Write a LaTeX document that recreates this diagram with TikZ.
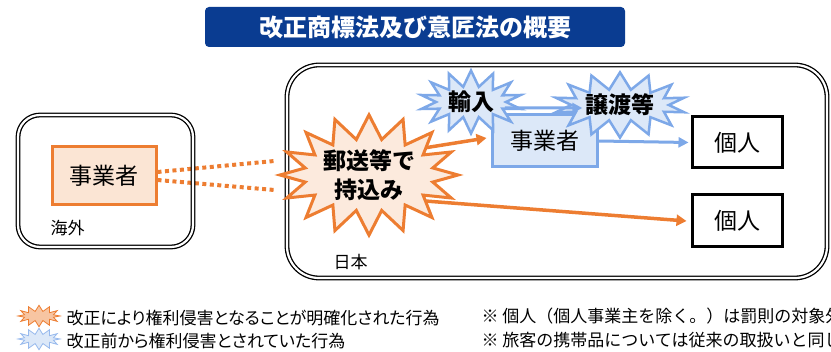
\documentclass[tikz,border=0pt]{standalone}
\usepackage{fontspec}
\setmainfont{Noto Sans CJK JP}
\usetikzlibrary{shapes.symbols,backgrounds,arrows.meta}
\definecolor{gaiyoblue}{RGB}{10,60,145}
\definecolor{kaisei}{RGB}{237,125,49}
\definecolor{kaiseifill}{RGB}{251,229,212}
\definecolor{jurailine}{RGB}{125,168,232}
\definecolor{juraifill}{RGB}{220,232,248}
\newcommand\boxfont{\fontsize{23}{27}\selectfont}
\newcommand\legendfont{\fontsize{17}{20}\selectfont\addfontfeatures{RawFeature=+palt}}
\tikzset{
	region/.style={draw=black, double=white, line width=1.3pt, double distance=2.2pt},
	actor/.style={draw, line width=3pt, inner sep=0pt, font=\boxfont},
	burst/.style={starburst, random starburst=0, inner sep=0pt, align=center,
		font=\bfseries\fontsize{23}{29}\selectfont},
	oarrow/.style={draw=kaisei, line width=3.5pt, -{Triangle[length=10pt,width=11pt]}},
	barrow/.style={draw=jurailine, line width=3pt, -{Triangle[length=10pt,width=10pt]}}
}
\begin{document}
\begin{tikzpicture}[x=1pt,y=-1pt]
	\useasboundingbox (0,0) rectangle (831,352);
	% title bar
	\node[fill=gaiyoblue, rounded corners=4pt, minimum width=420pt, minimum height=40pt,
		text=white, font=\bfseries\fontsize{24}{28}\selectfont] (title) at (415,27) {改正商標法及び意匠法の概要};

	% overseas and japan
	\draw[region, rounded corners=22pt] (18,115) rectangle (193,247);
	\draw[region, rounded corners=32pt] (287,65) rectangle (827,278);
	\node[anchor=west, font=\fontsize{17}{20}\selectfont] (kaigai) at (47,228) {海外};
	\node[anchor=west, font=\fontsize{17}{20}\selectfont] (nihon) at (330,262) {日本};

	% businesses and individuals
	\node[actor, draw=kaisei, fill=kaiseifill, minimum width=104pt, minimum height=58pt] (jigyoA) at (104,176) {事業者};
	\node[actor, draw=jurailine, fill=juraifill, minimum width=105pt, minimum height=52pt] (jigyoB) at (544.5,141) {事業者};
	\node[actor, fill=white, minimum width=90pt, minimum height=51pt] (kojinA) at (737,142.5) {個人};
	\node[actor, fill=white, minimum width=90pt, minimum height=52pt] (kojinB) at (737,221) {個人};

	% starbursts
	\node[burst, draw=kaisei, fill=kaiseifill!80, line width=3pt, starburst points=16,
		starburst point height=24pt, minimum width=172pt, minimum height=108pt] (yuso) at (369,175) {郵送等で\\持込み};
	\node[burst, draw=jurailine, fill=juraifill, line width=2.5pt, starburst points=14,
		starburst point height=16pt, minimum width=102pt, minimum height=52pt] (yunyu) at (471,102) {輸入};
	\node[burst, draw=jurailine, fill=juraifill, line width=2.5pt, starburst points=14,
		starburst point height=17pt, minimum width=116pt, minimum height=61pt] (joto) at (620,105) {譲渡等};

	% connectors
	\begin{scope}[on background layer]
		\draw[draw=kaisei, line width=4pt, dash pattern=on 4pt off 3.5pt]
			([yshift=4pt]jigyoA.east) -- ([yshift=14pt]yuso.west);
		\draw[draw=kaisei, line width=4pt, dash pattern=on 4pt off 3.5pt]
			([yshift=-4pt]jigyoA.east) -- ([yshift=-15pt]yuso.west);
		\draw[oarrow] ([xshift=30pt,yshift=23pt]yuso.center) -- ([xshift=-4pt,yshift=3pt]jigyoB.west);
		\draw[oarrow] ([xshift=30pt,yshift=-24pt]yuso.center) -- ([xshift=-4pt]kojinB.west);
		\draw[barrow] (jigyoB.east) -- ([xshift=-2pt]kojinA.west);
	\end{scope}
	\draw[barrow] ([xshift=-4pt,yshift=-6pt]yunyu.east) -- ([xshift=14pt,yshift=-3pt]joto.west);

	% legend
	\node[starburst, random starburst=0, starburst points=12, starburst point height=6pt,
		draw=kaisei, fill=kaisei!45, line width=0.8pt, minimum width=42pt, minimum height=16pt] (legKaisei) at (39,316) {};
	\node[starburst, random starburst=0, starburst points=12, starburst point height=6pt,
		draw=jurailine!80, fill=juraifill, line width=0.8pt, minimum width=42pt, minimum height=17pt] (legJurai) at (39,339) {};
	\node[anchor=west, font=\legendfont] (legKaiseiText) at (63,318) {改正により権利侵害となることが明確化された行為};
	\node[anchor=west, font=\legendfont] (legJuraiText) at (63,341) {改正前から権利侵害とされていた行為};
	\node[anchor=west, font=\fontsize{17}{20}\selectfont] (noteA) at (478,316) {※ 個人（個人事業主を除く。）は罰則の対象外};
	\node[anchor=west, font=\fontsize{17}{20}\selectfont] (noteB) at (478,340) {※ 旅客の携帯品については従来の取扱いと同じ};
\end{tikzpicture}
\end{document}
